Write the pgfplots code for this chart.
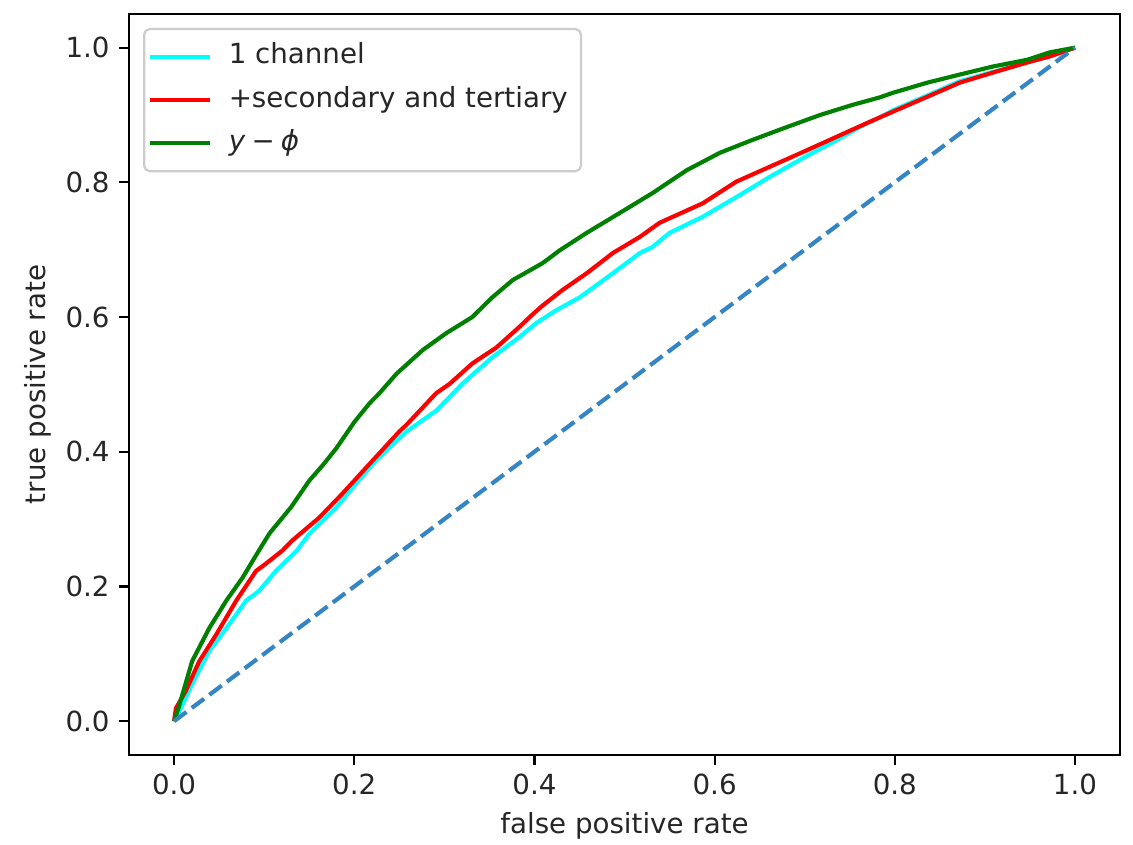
\documentclass[border=0pt]{standalone}
\usepackage{fontspec}
\setmainfont{DejaVu Sans}
\usepackage{pgfplots}
\pgfplotsset{compat=1.18}

\definecolor{rocCyan}{HTML}{00FFFF}
\definecolor{rocRed}{HTML}{FF0000}
\definecolor{rocGreen}{HTML}{008000}
\definecolor{rocDiag}{HTML}{3584C4}

\begin{document}
\begin{tikzpicture}
\begin{axis}[
  scale only axis,
  width=357.8pt,
  height=267.5pt,
  xmin=-0.05, xmax=1.05,
  ymin=-0.05, ymax=1.05,
  xtick={0,0.2,0.4,0.6,0.8,1.0},
  ytick={0,0.2,0.4,0.6,0.8,1.0},
  xtick pos=bottom,
  ytick pos=left,
  tick align=outside,
  major tick length=3.5pt,
  every tick/.style={black, line width=0.8pt},
  axis line style={black, line width=0.8pt},
  tick label style={font=\fontsize{10}{12}\selectfont, text=black!85},
  xticklabel style={/pgf/number format/.cd, fixed, fixed zerofill, precision=1, assume math mode=true},
  yticklabel style={/pgf/number format/.cd, fixed, fixed zerofill, precision=1, assume math mode=true},
  xlabel={false positive rate},
  ylabel={true positive rate},
  label style={font=\fontsize{10}{12}\selectfont, text=black!85},
  xlabel style={at={(axis description cs:0.5,-0.0958)}, anchor=center},
  ylabel style={at={(axis description cs:-0.0918,0.5)}, anchor=center},
  legend cell align=left,
  legend image code/.code={\draw[#1] (0pt,0pt) -- (21.7pt,0pt);},
  legend style={at={(axis description cs:0,1)}, anchor=north west,
    xshift=5.05pt, yshift=-5.05pt,
    draw=black!20, line width=0.8pt, rounded corners=2pt,
    fill=white, fill opacity=0.8, text opacity=1,
    font=\fontsize{10}{12}\selectfont, text=black!85,
    inner xsep=1.5pt, inner ysep=2.25pt, row sep=0pt, column sep=2.6pt,
    nodes={text height=7.5pt, text depth=2.5pt, inner ysep=2.8pt, inner xsep=3.25pt}},
  every axis plot/.append style={line width=1.5pt, line join=round},
]
\addplot[rocCyan] coordinates {
(0,0) (0.006,0.015) (0.020,0.055) (0.039,0.104) (0.058,0.138) (0.080,0.179)
(0.094,0.193) (0.113,0.223) (0.136,0.253) (0.150,0.278) (0.180,0.317)
(0.202,0.353) (0.224,0.387) (0.250,0.420) (0.258,0.430) (0.291,0.461)
(0.320,0.501) (0.353,0.540) (0.383,0.570) (0.402,0.591) (0.424,0.610)
(0.450,0.629) (0.487,0.665) (0.517,0.695) (0.531,0.704) (0.550,0.725)
(0.587,0.749) (0.624,0.778) (0.661,0.808) (0.698,0.836) (0.736,0.863)
(0.761,0.882) (0.783,0.896) (0.798,0.907) (0.836,0.929) (0.872,0.950)
(0.909,0.964) (0.947,0.978) (0.972,0.987) (1,1)
};
\addlegendentry{1 channel}
\addplot[rocRed] coordinates {
(0,0) (0.002,0.019) (0.013,0.045) (0.028,0.089) (0.047,0.129) (0.069,0.179)
(0.091,0.223) (0.102,0.234) (0.120,0.253) (0.131,0.268) (0.161,0.302)
(0.187,0.338) (0.217,0.382) (0.228,0.398) (0.250,0.430) (0.258,0.440)
(0.291,0.487) (0.306,0.501) (0.331,0.531) (0.358,0.555) (0.383,0.585)
(0.398,0.604) (0.409,0.617) (0.431,0.640) (0.458,0.665) (0.487,0.695)
(0.517,0.719) (0.539,0.740) (0.587,0.769) (0.624,0.801) (0.661,0.823)
(0.698,0.845) (0.736,0.868) (0.769,0.888) (0.798,0.905) (0.836,0.927)
(0.872,0.948) (0.909,0.963) (0.947,0.978) (0.972,0.987) (1,1)
};
\addlegendentry{+secondary and tertiary}
\addplot[rocGreen] coordinates {
(0,0) (0.005,0.020) (0.020,0.089) (0.039,0.138) (0.058,0.179) (0.076,0.213)
(0.094,0.253) (0.106,0.279) (0.130,0.318) (0.150,0.357) (0.165,0.380)
(0.180,0.405) (0.200,0.444) (0.217,0.472) (0.228,0.487) (0.247,0.516)
(0.276,0.551) (0.302,0.576) (0.331,0.600) (0.353,0.629) (0.376,0.655)
(0.409,0.680) (0.428,0.699) (0.458,0.725) (0.494,0.754) (0.531,0.784)
(0.569,0.818) (0.606,0.844) (0.642,0.863) (0.680,0.882) (0.717,0.900)
(0.753,0.915) (0.783,0.926) (0.798,0.933) (0.836,0.948) (0.872,0.960)
(0.909,0.972) (0.947,0.982) (0.972,0.993) (1,1)
};
\addlegendentry{\textit{y}\hspace{0.22em}−\hspace{0.22em}\textit{ϕ}}
\addplot[rocDiag, dash pattern=on 5.55pt off 2.4pt, forget plot] coordinates {(0,0) (1,1)};
\end{axis}
\pgfresetboundingbox
\path ([xshift=-46.6pt,yshift=-32.5pt]current axis.south west)
  rectangle ([xshift=4.7pt,yshift=5.05pt]current axis.north east);
\end{tikzpicture}
\end{document}
